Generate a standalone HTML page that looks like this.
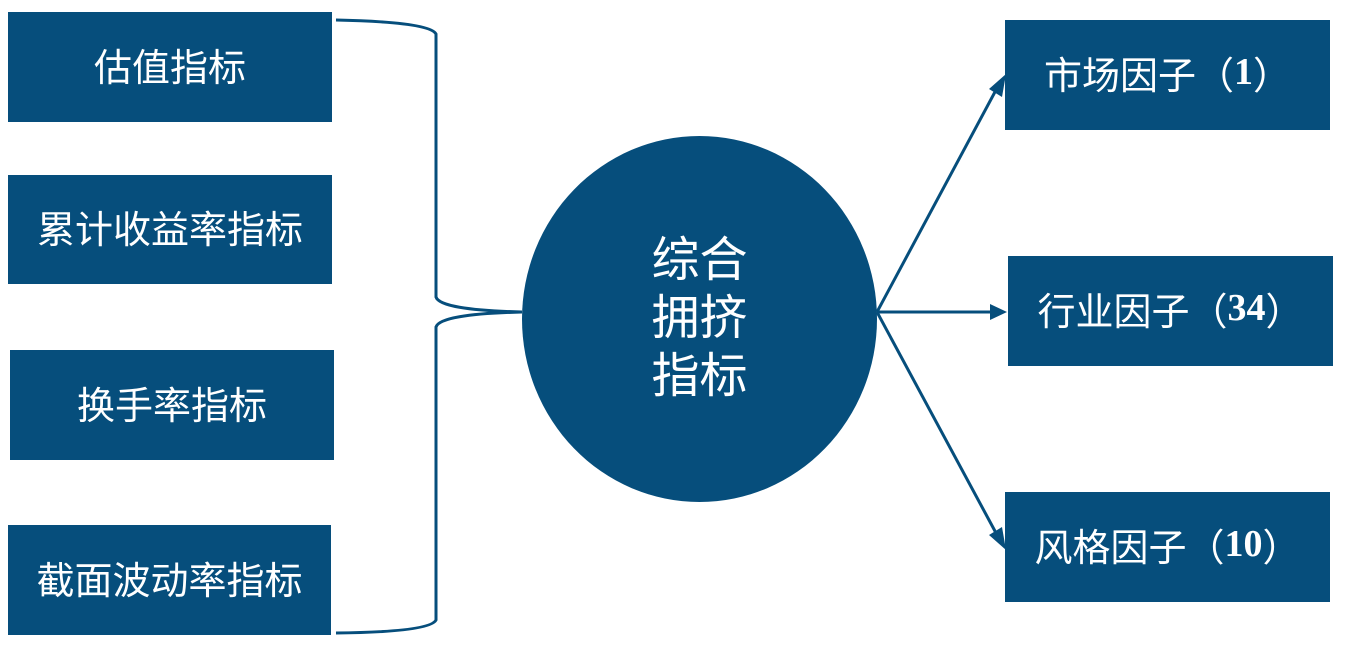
<!DOCTYPE html>
<html><head><meta charset="utf-8"><style>
body{margin:0;background:#fff;width:1347px;height:645px;overflow:hidden;position:relative;font-family:"Liberation Serif","Noto Serif CJK SC","Noto Sans CJK SC",serif}
.b{position:absolute;background:#064e7c;color:#fff;font-size:38px;display:flex;align-items:center;justify-content:center;box-sizing:border-box;padding-bottom:6px;font-family:"Liberation Serif","Noto Sans CJK SC",sans-serif}
.c{position:absolute;left:522px;top:136px;width:355px;height:366px;border-radius:50%;background:#064e7c;color:#fff;font-size:48px;line-height:58px;display:flex;align-items:center;justify-content:center;text-align:center;font-family:"Liberation Sans","Noto Sans CJK SC",sans-serif}
</style></head><body>
<div class="b" style="left:8px;top:12px;width:324px;height:110px">估值指标</div>
<div class="b" style="left:8px;top:175px;width:324px;height:109px">累计收益率指标</div>
<div class="b" style="left:10px;top:350px;width:324px;height:110px">换手率指标</div>
<div class="b" style="left:8px;top:525px;width:323px;height:110px">截面波动率指标</div>
<div class="c">综合<br>拥挤<br>指标</div>
<div class="b" style="left:1005px;top:20px;width:325px;height:110px">市场因子（<b>1</b>）</div>
<div class="b" style="left:1008px;top:256px;width:325px;height:110px">行业因子（<b>34</b>）</div>
<div class="b" style="left:1005px;top:492px;width:325px;height:110px">风格因子（<b>10</b>）</div>
<svg width="1347" height="645" style="position:absolute;left:0;top:0">
<path d="M336,20 Q430,22 436,34 L436,297 Q440,310 522,312 Q440,314 436,327 L436,620 Q430,632 336,633" fill="none" stroke="#064e7c" stroke-width="3"/>
<g stroke="#064e7c" stroke-width="3" fill="#064e7c">
<line x1="877" y1="312" x2="996" y2="90"/>
<line x1="877" y1="312" x2="993" y2="312"/>
<line x1="877" y1="312" x2="996" y2="533"/>
</g>
<g fill="#064e7c">
<polygon points="1006,74 1002,97 989,89"/>
<polygon points="1007,312 990,304 990,320"/>
<polygon points="1006,550 989,535 1002,527"/>
</g>
</svg>
</body></html>
